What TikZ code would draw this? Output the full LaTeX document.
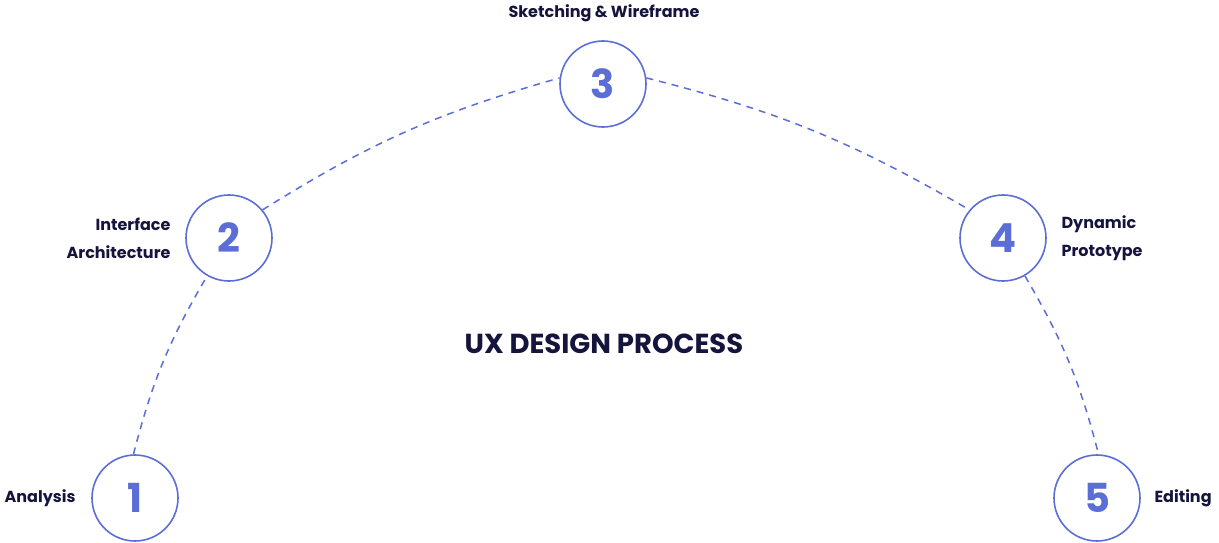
\documentclass[tikz,border=0pt]{standalone}
\usepackage{fontspec}
\setmainfont{Poppins}
\definecolor{blu}{HTML}{5B6DD6}
\definecolor{ink}{HTML}{14143C}
\begin{document}
\begin{tikzpicture}[x=1pt,y=-1pt,
  stepc/.style={circle,draw=blu,line width=1.6pt,minimum size=86pt,inner sep=0pt,text=blu,font=\fontsize{40}{40}\selectfont\bfseries},
  lbl/.style={text=ink,font=\fontsize{16}{28}\selectfont\bfseries,align=left},
  dsh/.style={draw=blu,line width=1.5pt,dash pattern=on 7pt off 6pt}]
\useasboundingbox (0,0) rectangle (1219,543);
\node[stepc] (c1) at (135,498) {1};
\node[stepc] (c2) at (229,238) {2};
\node[stepc] (c3) at (603,84) {3};
\node[stepc] (c4) at (1003,238) {4};
\node[stepc] (c5) at (1097,498) {5};
\node[lbl,anchor=east] (l1) at (79,498) {Analysis};
\node[lbl,anchor=east,align=right] (l2) at (174,238) {Interface\\Architecture};
\node[lbl] (l3) at (604,13) {Sketching \& Wireframe};
\node[lbl,anchor=west] (l4) at (1058,238) {Dynamic\\Prototype};
\node[lbl,anchor=west] (l5) at (1151,498) {Editing};
\node[text=ink,font=\fontsize{27.5}{30}\selectfont\bfseries] (t) at (604,344) {UX DESIGN PROCESS};
\draw[dsh] (c1.92) to[bend left=8] (c2.240);
\draw[dsh] (c2.40) to[bend left=8] (c3.172);
\draw[dsh] (c3.8) to[bend left=8] (c4.140);
\draw[dsh] (c4.300) to[bend left=8] (c5.88);
\end{tikzpicture}
\end{document}
